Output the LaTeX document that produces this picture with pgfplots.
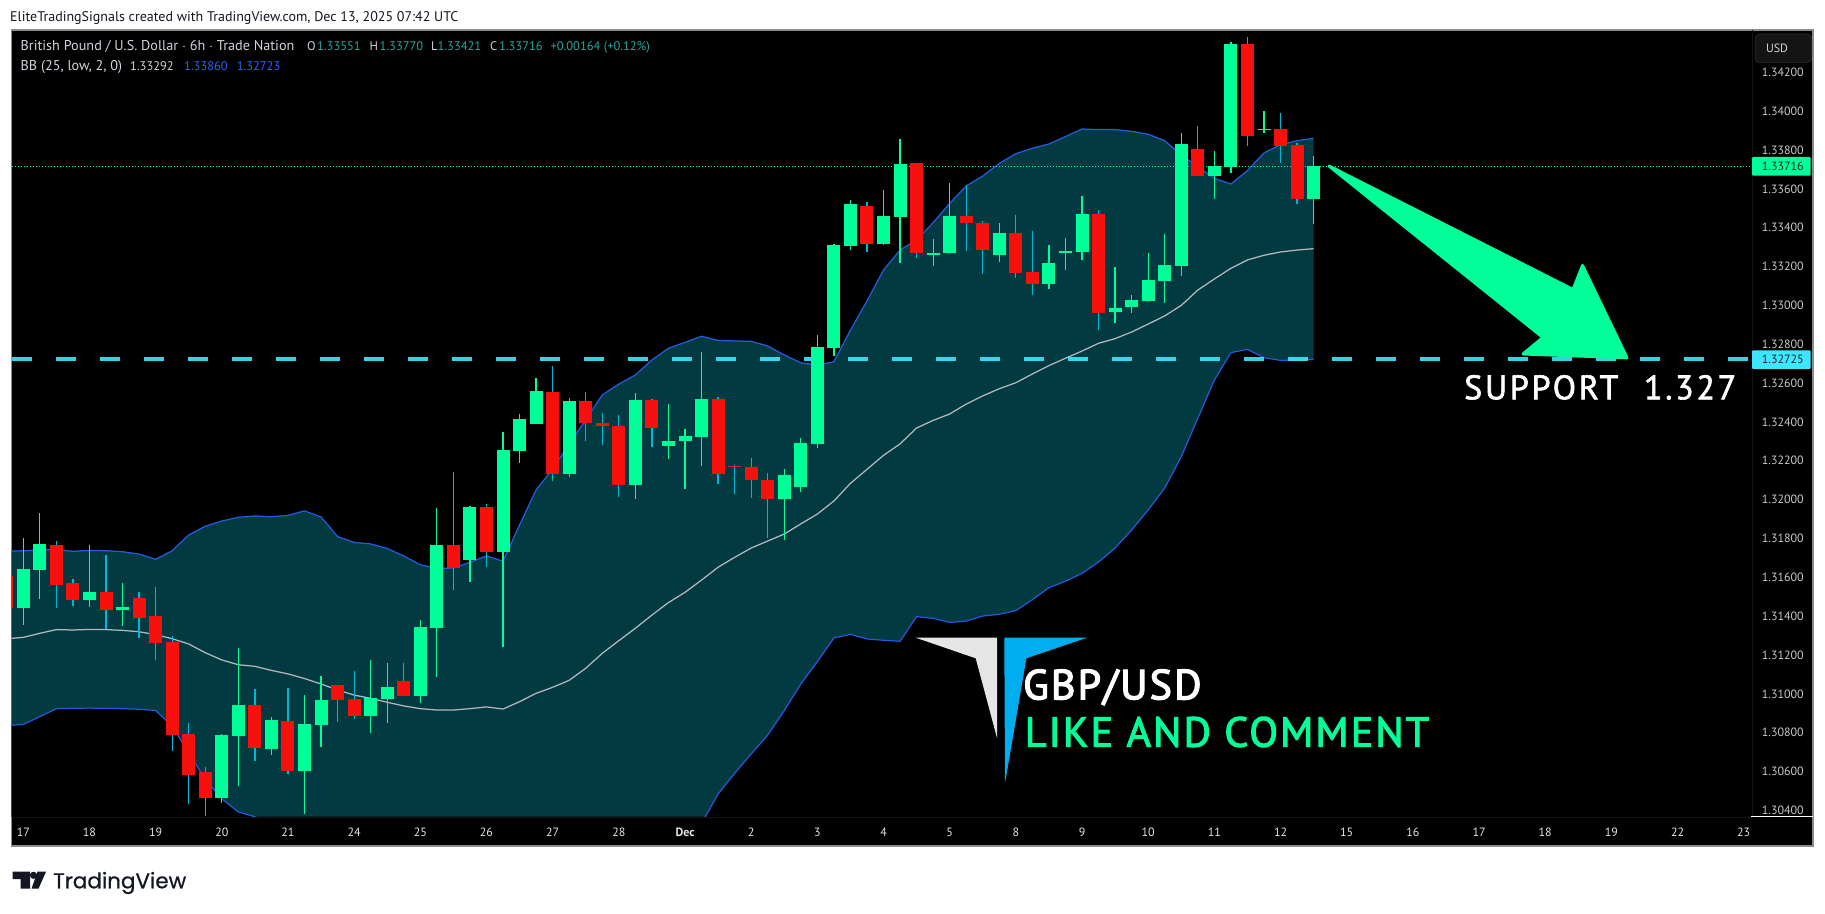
\documentclass[border=0pt]{standalone}
\usepackage{pgfplots}
\usepackage{pgfplotstable}
\usepackage{fontspec}
\pgfplotsset{compat=1.18}
\setmainfont{PT Sans}
\newfontfamily\tvfont[FakeBold=0.6]{Poppins}
\definecolor{tvgreen}{RGB}{0,255,153}
\definecolor{tvred}{RGB}{247,17,13}
\definecolor{wickred}{RGB}{0,184,212}
\definecolor{bbfill}{RGB}{2,58,65}
\definecolor{bbline}{RGB}{36,92,222}
\definecolor{midline}{RGB}{178,184,190}
\definecolor{supp}{RGB}{60,232,255}
\definecolor{lbl}{RGB}{209,212,220}
\definecolor{teal}{RGB}{38,166,154}
\definecolor{scaletxt}{RGB}{200,200,200}
\definecolor{tvdark}{RGB}{19,23,34}
\definecolor{faint}{RGB}{20,20,20}
\definecolor{btnline}{RGB}{42,42,42}
\definecolor{hdrblue}{RGB}{41,98,255}
\definecolor{logoblue}{RGB}{0,174,239}
\pgfplotstableread{
k h t b l
1 1.31801 1.31643 1.31442 1.31355
2 1.31931 1.31772 1.31638 1.31489
5 1.31767 1.31525 1.31483 1.31447
7 1.31571 1.31447 1.31432 1.31350
13 1.30794 1.30788 1.30464 1.30438
14 1.31236 1.30943 1.30783 1.30526
16 1.30881 1.30866 1.30716 1.30685
18 1.30994 1.30845 1.30603 1.30382
19 1.31092 1.30969 1.30840 1.30727
22 1.31175 1.30979 1.30886 1.30799
23 1.31159 1.31036 1.30974 1.30850
25 1.31381 1.31344 1.30989 1.30953
26 1.31957 1.31767 1.31339 1.31087
28 1.31967 1.31962 1.31689 1.31576
30 1.32348 1.32256 1.31731 1.31243
31 1.32441 1.32415 1.32251 1.32189
32 1.32626 1.32559 1.32390 1.32390
34 1.32523 1.32508 1.32132 1.32117
38 1.32549 1.32513 1.32076 1.32003
40 1.32492 1.32302 1.32276 1.32209
41 1.32364 1.32328 1.32302 1.32055
42 1.32760 1.32518 1.32323 1.32173
47 1.32158 1.32127 1.32003 1.31792
48 1.32317 1.32292 1.32065 1.32039
49 1.32848 1.32786 1.32287 1.32266
50 1.33316 1.33311 1.32781 1.32740
51 1.33543 1.33522 1.33306 1.33285
53 1.33594 1.33460 1.33316 1.33311
54 1.33857 1.33728 1.33455 1.33218
56 1.33342 1.33270 1.33259 1.33203
57 1.33630 1.33460 1.33270 1.33270
60 1.33424 1.33373 1.33259 1.33223
63 1.33311 1.33218 1.33110 1.33084
64 1.33347 1.33280 1.33270 1.33182
65 1.33563 1.33471 1.33275 1.33234
67 1.33198 1.32987 1.32966 1.32909
68 1.33054 1.33028 1.32992 1.32961
69 1.33270 1.33131 1.33023 1.33023
70 1.33368 1.33208 1.33126 1.33012
71 1.33888 1.33831 1.33203 1.33151
73 1.33795 1.33718 1.33666 1.33548
74 1.34356 1.34346 1.33712 1.33682
76 1.34001 1.33908 1.33903 1.33887
79 1.33770 1.33718 1.33548 1.33419
}\greendata
\pgfplotstableread{
k h t b l
0 1.31640 1.31607 1.31442 1.31400
3 1.31787 1.31767 1.31561 1.31442
4 1.31592 1.31571 1.31483 1.31453
6 1.31715 1.31525 1.31432 1.31334
8 1.31525 1.31494 1.31391 1.31288
9 1.31550 1.31401 1.31262 1.31175
10 1.31298 1.31267 1.30788 1.30706
11 1.30850 1.30794 1.30583 1.30433
12 1.30624 1.30598 1.30464 1.30372
15 1.31025 1.30943 1.30722 1.30655
17 1.31030 1.30861 1.30603 1.30588
20 1.31046 1.31046 1.30969 1.30855
21 1.31118 1.30974 1.30886 1.30871
24 1.31159 1.31066 1.30989 1.30989
27 1.32142 1.31767 1.31648 1.31535
29 1.31978 1.31962 1.31731 1.31653
33 1.32688 1.32554 1.32132 1.32096
35 1.32554 1.32508 1.32395 1.32302
36 1.32446 1.32395 1.32379 1.32281
37 1.32436 1.32379 1.32076 1.32014
39 1.32518 1.32513 1.32369 1.32271
43 1.32529 1.32518 1.32132 1.32081
44 1.32178 1.32173 1.32168 1.32029
45 1.32215 1.32168 1.32101 1.32009
46 1.32137 1.32101 1.32003 1.31803
52 1.33532 1.33512 1.33316 1.33275
55 1.33733 1.33733 1.33270 1.33244
58 1.33620 1.33460 1.33424 1.33280
59 1.33434 1.33424 1.33285 1.33162
61 1.33465 1.33373 1.33167 1.33141
62 1.33383 1.33172 1.33110 1.33054
66 1.33491 1.33471 1.32961 1.32873
72 1.33924 1.33805 1.33666 1.33666
75 1.34382 1.34346 1.33872 1.33821
77 1.33990 1.33908 1.33821 1.33733
78 1.33836 1.33826 1.33548 1.33522
}\reddata
\pgfplotstableread{
k up mid low
0 1.31734 1.31284 1.30837
1 1.31737 1.31291 1.30843
2 1.31741 1.31312 1.30883
3 1.31743 1.31331 1.30924
4 1.31734 1.31329 1.30926
5 1.31739 1.31332 1.30927
6 1.31737 1.31331 1.30926
7 1.31732 1.31327 1.30924
8 1.31720 1.31320 1.30921
9 1.31693 1.31305 1.30915
10 1.31737 1.31284 1.30835
11 1.31818 1.31257 1.30696
12 1.31863 1.31212 1.30561
13 1.31890 1.31175 1.30460
14 1.31909 1.31150 1.30392
15 1.31916 1.31142 1.30368
16 1.31912 1.31121 1.30330
17 1.31919 1.31103 1.30287
18 1.31942 1.31079 1.30216
19 1.31911 1.31051 1.30191
20 1.31810 1.31020 1.30230
21 1.31780 1.30994 1.30208
22 1.31772 1.30977 1.30182
23 1.31749 1.30957 1.30165
24 1.31710 1.30938 1.30166
25 1.31665 1.30924 1.30183
26 1.31646 1.30917 1.30188
27 1.31648 1.30917 1.30186
28 1.31677 1.30924 1.30171
29 1.31710 1.30933 1.30156
30 1.31683 1.30922 1.30161
31 1.31870 1.30960 1.30050
32 1.32050 1.31003 1.29956
33 1.32158 1.31034 1.29910
34 1.32287 1.31070 1.29853
35 1.32410 1.31132 1.29854
36 1.32539 1.31209 1.29879
37 1.32595 1.31274 1.29953
38 1.32642 1.31338 1.30034
39 1.32719 1.31406 1.30093
40 1.32779 1.31470 1.30161
41 1.32810 1.31523 1.30236
42 1.32841 1.31586 1.30333
43 1.32820 1.31652 1.30485
44 1.32817 1.31703 1.30591
45 1.32815 1.31751 1.30691
46 1.32791 1.31787 1.30788
47 1.32745 1.31823 1.30914
48 1.32705 1.31875 1.31051
49 1.32692 1.31926 1.31166
50 1.32710 1.31993 1.31288
51 1.32872 1.32084 1.31307
52 1.33023 1.32156 1.31283
53 1.33182 1.32228 1.31276
54 1.33285 1.32287 1.31271
55 1.33337 1.32369 1.31398
56 1.33426 1.32408 1.31389
57 1.33525 1.32441 1.31368
58 1.33615 1.32492 1.31375
59 1.33666 1.32534 1.31401
60 1.33731 1.32571 1.31410
61 1.33781 1.32602 1.31429
62 1.33809 1.32647 1.31485
63 1.33831 1.32690 1.31547
64 1.33869 1.32728 1.31580
65 1.33908 1.32765 1.31621
66 1.33905 1.32805 1.31679
67 1.33905 1.32829 1.31751
68 1.33896 1.32863 1.31844
69 1.33881 1.32904 1.31947
70 1.33848 1.32946 1.32060
71 1.33774 1.33000 1.32221
72 1.33714 1.33079 1.32419
73 1.33654 1.33136 1.32616
74 1.33625 1.33191 1.32757
75 1.33694 1.33234 1.32774
76 1.33785 1.33258 1.32731
77 1.33827 1.33275 1.32717
78 1.33848 1.33285 1.32717
79 1.33860 1.33292 1.32723
}\bbdata
\pgfplotsset{
  wick/.style={draw=none,mark=none,forget plot,error bars/.cd,y dir=plus,y explicit,error mark=none,
    error bar style={line width=1.25pt,#1}},
  body/.style={draw=none,mark=none,forget plot,error bars/.cd,y dir=plus,y explicit,error mark=none,
    error bar style={line width=13pt,#1}}
}
\begin{document}
\begin{tikzpicture}
\path[use as bounding box,fill=white] (0,0) rectangle (1825pt,913pt);
\begin{scope}[x=1pt,y=-1pt,yshift=913pt]
\fill[black] (11.5,30) rectangle (1813,846);
\draw[gray!90,line width=1.4pt] (11.5,30) rectangle (1813,846);
\end{scope}
\begin{axis}[
  at={(11.5pt,96pt)},anchor=south west,scale only axis,width=1740.5pt,height=787pt,
  xmin=0.2867,xmax=105.5,ymin=1.303663,ymax=1.344178,
  axis line style={draw=faint,line width=0.6pt},
  tick style={draw=none},major tick length=0pt,
  axis x line*=bottom,axis y line*=right,
  xtick={1,5,9,13,17,21,25,29,33,37,41,45,49,53,57,61,65,69,73,77,81,85,89,93,97,101,105},
  xticklabels={17,18,19,20,21,24,25,26,27,28,\textbf{Dec},2,3,4,5,8,9,10,11,12,15,16,17,18,19,22,23},
  xticklabel style={font=\fontsize{12}{14}\selectfont,text=lbl!60!white,anchor=base,inner sep=0pt,yshift=-20pt},
  ytick={1.304,1.306,1.308,1.310,1.312,1.314,1.316,1.318,1.320,1.322,1.324,1.326,1.328,1.330,1.332,1.334,1.336,1.338,1.340,1.342},
  yticklabel pos=right,
  yticklabel style={font=\fontsize{12}{14}\selectfont,text=scaletxt,anchor=west,inner sep=0pt,xshift=9.7pt,
    /pgf/number format/fixed,/pgf/number format/fixed zerofill,/pgf/number format/precision=5,
    /pgf/number format/assume math mode=true},
]
\addplot[fill=bbfill,draw=none,forget plot] table[x=k,y=up]{\bbdata} \closedcycle;
\addplot[fill=black,draw=black,line width=0.8pt,forget plot] table[x=k,y=low]{\bbdata} \closedcycle;
\addplot[bbline,line width=1.25pt,forget plot] table[x=k,y=up]{\bbdata};
\addplot[bbline,line width=1.25pt,forget plot] table[x=k,y=low]{\bbdata};
\addplot[midline,line width=1.25pt,forget plot] table[x=k,y=mid]{\bbdata};
\addplot[tvgreen,line width=1pt,dash pattern=on 1pt off 2pt,forget plot] coordinates {(0.2867,1.33716)(105.5,1.33716)};
\addplot[supp,opacity=0.9,line width=3.6pt,dash pattern=on 20pt off 24pt,forget plot] coordinates {(0.2867,1.32725)(105.5,1.32725)};
\addplot[wick={wickred}] table[x=k,y=l,y error plus expr=\thisrow{h}-\thisrow{l},y error minus expr=0]{\reddata};
\addplot[wick={tvgreen}] table[x=k,y=l,y error plus expr=\thisrow{h}-\thisrow{l},y error minus expr=0]{\greendata};
\addplot[body={tvred}] table[x=k,y=b,y error plus expr=\thisrow{t}-\thisrow{b},y error minus expr=0]{\reddata};
\addplot[body={tvgreen}] table[x=k,y=b,y error plus expr=\thisrow{t}-\thisrow{b},y error minus expr=0]{\greendata};
\end{axis}
\begin{scope}[x=1pt,y=-1pt,yshift=913pt]
% price scale furniture
\draw[white,line width=0.8pt] (1751,816.5) -- (1813,816.5);
\filldraw[fill=faint,draw=btnline,rounded corners=5pt,line width=0.8pt] (1755,34) rectangle (1811.7,62.7);
\node[anchor=center,inner sep=0,text=lbl,font=\fontsize{12}{14}\selectfont] at (1777,48.5) {USD};
\fill[tvgreen,rounded corners=1pt] (1752,157) rectangle (1810.7,175.7);
\node[anchor=west,inner sep=0,text=black!85,font=\fontsize{12}{14}\selectfont] at (1761.7,166.3) {1.33716};
\fill[supp,rounded corners=1pt] (1752,350.3) rectangle (1810.7,369);
\node[anchor=west,inner sep=0,text=black!85,font=\fontsize{12}{14}\selectfont] at (1761.7,359.7) {1.32725};
% arrow
\filldraw[tvgreen,line width=3pt,line join=round] (1329,166) -- (1573,289.5) -- (1582.5,265.5) -- (1627,357.8) -- (1523,354) -- (1543,337.5) -- cycle;
% texts
\node[anchor=base west,inner sep=0,text=tvdark,font=\fontsize{14}{16}\selectfont] at (10,21.3) {EliteTradingSignals created with TradingView.com, Dec 13, 2025 07:42 UTC};
\begin{scope}[every node/.style={anchor=base west,inner sep=0,font=\fontsize{12.5}{15}\selectfont}]
\node[text=lbl,font=\fontsize{14.2}{16}\selectfont] at (20.5,51) {British Pound / U.S. Dollar $\cdot$ 6h $\cdot$ Trade Nation};
\node[text=lbl] at (307,51) {O}; \node[text=teal] at (317,51) {1.33551};
\node[text=lbl] at (369.5,51) {H}; \node[text=teal] at (379.5,51) {1.33770};
\node[text=lbl] at (431,51) {L}; \node[text=teal] at (437.5,51) {1.33421};
\node[text=lbl] at (490,51) {C}; \node[text=teal] at (499,51) {1.33716};
\node[text=teal] at (550.4,51) {+0.00164 (+0.12\%)};
\node[text=lbl,font=\fontsize{14.2}{16}\selectfont] at (20.5,70.3) {BB (25, low, 2, 0)};
\node[text=lbl] at (130,70.3) {1.33292};
\node[text=hdrblue] at (184,70.3) {1.33860};
\node[text=hdrblue] at (236.6,70.3) {1.32723};
\end{scope}
\node[anchor=base west,inner sep=0,text=white,font=\fontsize{34}{36}\selectfont] at (1464,399.3) {\addfontfeature{LetterSpace=8,FakeBold=1.8}SUPPORT\hspace{0.75em}1.327};
\node[anchor=base west,inner sep=0,text=white,font=\fontsize{42}{46}\selectfont] at (1023,699.3) {\addfontfeature{LetterSpace=5,FakeBold=3}GBP/USD};
\node[anchor=base west,inner sep=0,text=tvgreen,font=\fontsize{42}{46}\selectfont] at (1024.6,746.7) {\addfontfeature{LetterSpace=5,FakeBold=2.5}LIKE AND COMMENT};
% logo
\fill[black!10] (915.7,637.7) -- (997.1,637.7) -- (997.1,738.3) -- (975.7,658.3) -- cycle;
\fill[logoblue] (1004.3,637.7) -- (1087.1,637.7) -- (1026.4,658.3) -- (1005,783.3) -- cycle;
% TradingView logo
\fill[tvdark] (12.7,871.7) -- (30,871.7) -- (30,888.7) -- (20.7,888.7) -- (20.7,879) -- (12.7,879) -- cycle;
\fill[tvdark] (33.5,875.3) circle (3.6);
\fill[tvdark] (37.5,871.7) -- (46,871.7) -- (38.5,888.7) -- (31.5,888.7) -- cycle;
\node[anchor=base west,inner sep=0,text=tvdark,font=\tvfont\fontsize{21.5}{26}\selectfont] at (53,888.3) {TradingView};
\end{scope}
\end{tikzpicture}
\end{document}
